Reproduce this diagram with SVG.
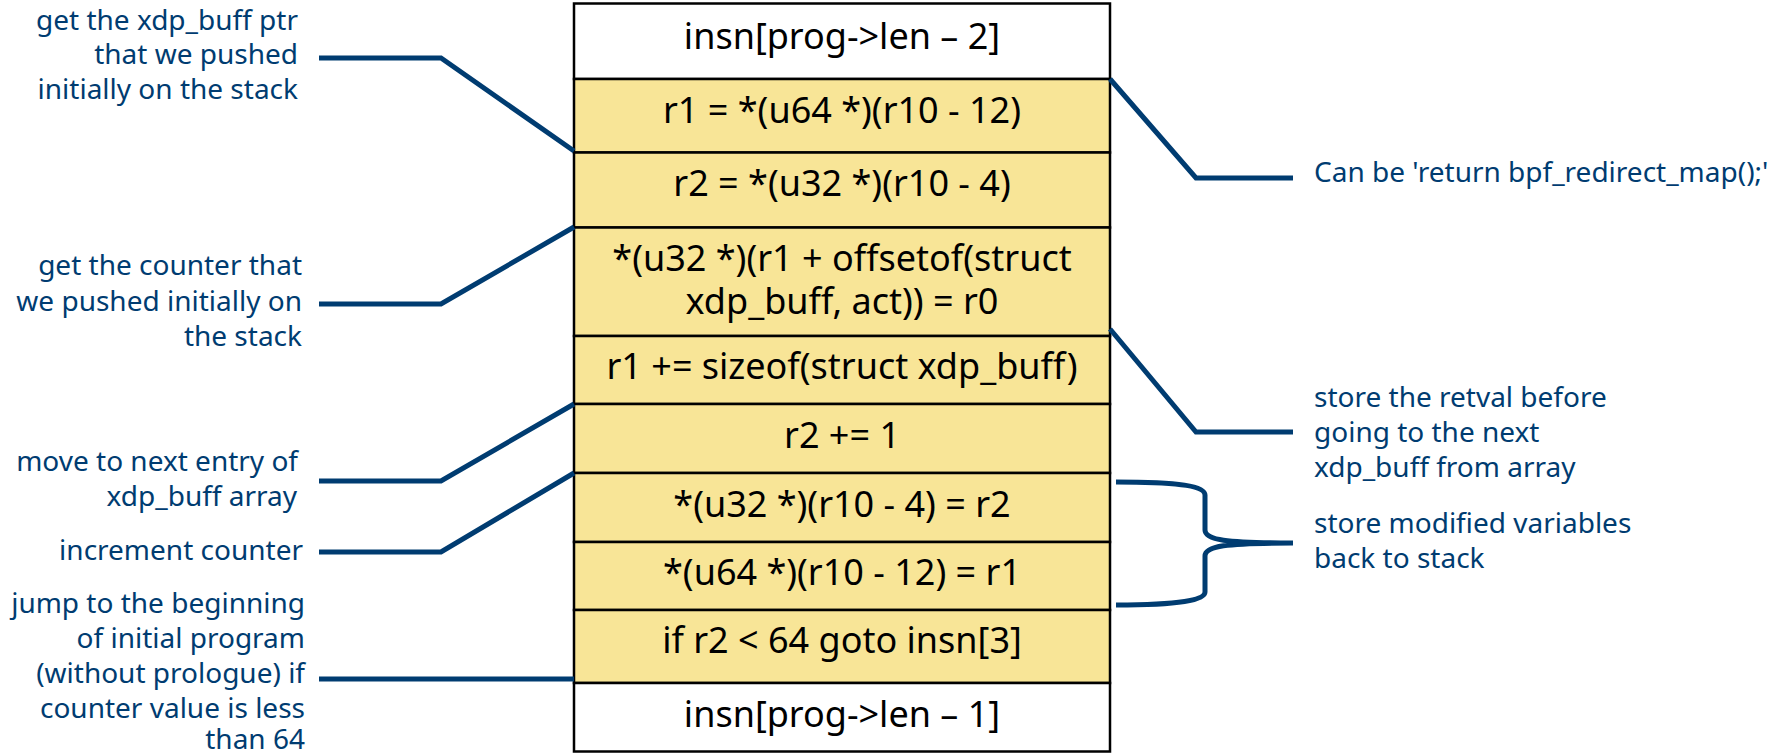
<svg xmlns="http://www.w3.org/2000/svg" width="1787" height="756" viewBox="0 0 1787 756">
<style>
.row{stroke:#000;stroke-width:2.5}
.y{fill:#F8E597}
.w{fill:#FFFFFF}
.code{font-family:"Noto Sans","Open Sans",sans-serif;font-size:36px;fill:#000;text-anchor:middle}
.lbl{font-family:"Noto Sans","Open Sans",sans-serif;font-size:28px;fill:#003C71}
.l{text-anchor:end}
.conn{fill:none;stroke:#003C71;stroke-width:5;stroke-linejoin:miter}
</style>
<rect width="1787" height="756" fill="#FFFFFF"/>
<g id="stack">
<g id="n1"><rect class="row w" x="574" y="3.5" width="536" height="75.5"/><text class="code" x="842" y="49">insn[prog-&gt;len – 2]</text></g>
<g id="n2"><rect class="row y" x="574" y="79" width="536" height="73.5"/><text class="code" x="842" y="123">r1 = *(u64 *)(r10 - 12)</text></g>
<g id="n3"><rect class="row y" x="574" y="152.5" width="536" height="75"/><text class="code" x="842" y="196">r2 = *(u32 *)(r10 - 4)</text></g>
<g id="n4"><rect class="row y" x="574" y="227.5" width="536" height="108.5"/><text class="code" x="842" y="271">*(u32 *)(r1 + offsetof(struct</text><text class="code" x="842" y="314">xdp_buff, act)) = r0</text></g>
<g id="n5"><rect class="row y" x="574" y="336" width="536" height="68"/><text class="code" x="842" y="379">r1 += sizeof(struct xdp_buff)</text></g>
<g id="n6"><rect class="row y" x="574" y="404" width="536" height="69"/><text class="code" x="842" y="448">r2 += 1</text></g>
<g id="n7"><rect class="row y" x="574" y="473" width="536" height="69"/><text class="code" x="842" y="517">*(u32 *)(r10 - 4) = r2</text></g>
<g id="n8"><rect class="row y" x="574" y="542" width="536" height="68"/><text class="code" x="842" y="585">*(u64 *)(r10 - 12) = r1</text></g>
<g id="n9"><rect class="row y" x="574" y="610" width="536" height="73"/><text class="code" x="842" y="653">if r2 &lt; 64 goto insn[3]</text></g>
<g id="n10"><rect class="row w" x="574" y="683" width="536" height="68.5"/><text class="code" x="842" y="727">insn[prog-&gt;len – 1]</text></g>
</g>
<g id="labels">
<g id="lab1"><text class="lbl l" x="298" y="30">get the xdp_buff ptr</text><text class="lbl l" x="298" y="64">that we pushed</text><text class="lbl l" x="298" y="99">initially on the stack</text></g>
<g id="lab2"><text class="lbl l" x="302" y="275">get the counter that</text><text class="lbl l" x="302" y="311">we pushed initially on</text><text class="lbl l" x="302" y="346">the stack</text></g>
<g id="lab3"><text class="lbl l" x="298" y="471">move to next entry of</text><text class="lbl l" x="297" y="506">xdp_buff array</text></g>
<g id="lab4"><text class="lbl l" x="303" y="560">increment counter</text></g>
<g id="lab5"><text class="lbl l" x="305" y="613">jump to the beginning</text><text class="lbl l" x="305" y="648">of initial program</text><text class="lbl l" x="305" y="683">(without prologue) if</text><text class="lbl l" x="305" y="718">counter value is less</text><text class="lbl l" x="305" y="749">than 64</text></g>
<g id="lab6"><text class="lbl" x="1314" y="182">Can be 'return bpf_redirect_map();'</text></g>
<g id="lab7"><text class="lbl" x="1314" y="407">store the retval before</text><text class="lbl" x="1314" y="442">going to the next</text><text class="lbl" x="1314" y="477">xdp_buff from array</text></g>
<g id="lab8"><text class="lbl" x="1314" y="533">store modified variables</text><text class="lbl" x="1314" y="568">back to stack</text></g>
</g>
<g id="connectors">
<path class="conn" d="M319,58 H441 L574,151"/>
<path class="conn" d="M319,304 H441 L574,227"/>
<path class="conn" d="M319,481 H441 L574,404"/>
<path class="conn" d="M319,552 H441 L574,473"/>
<path class="conn" d="M319,679 H574"/>
<path class="conn" d="M1110,79 L1196,178 H1293"/>
<path class="conn" d="M1110,329 L1196,432 H1293"/>
<path class="conn" d="M1116,482 C1180,482 1205,486 1205,495 V530 C1205,540 1225,543 1293,543 M1293,543 C1225,543 1205,546 1205,556 V592 C1205,600 1180,605 1116,605"/>
</g>
</svg>
